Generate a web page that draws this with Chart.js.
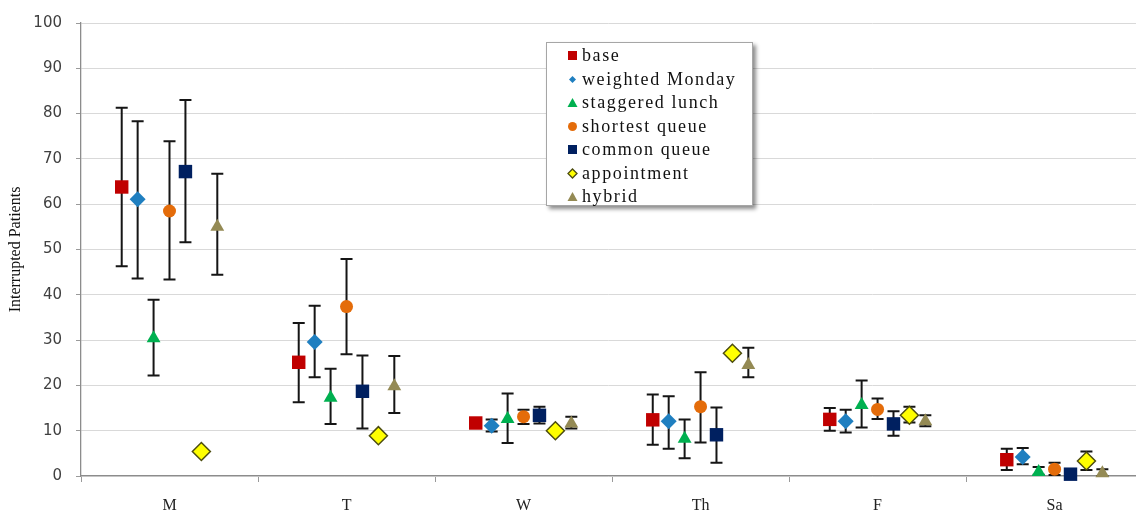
<!DOCTYPE html>
<html>
<head>
<meta charset="utf-8">
<script src="https://cdn.jsdelivr.net/npm/chart.js@4.4.1/dist/chart.umd.min.js"></script>
<style>
  body { margin: 0; background: #fff; }
  #wrap { position: relative; width: 1136px; height: 514px; overflow: hidden; }
  #legend {
    position: absolute; left: 546px; top: 42px; width: 207px; height: 164px;
    border: 1px solid #a6a6a6; background: #fff;
    box-shadow: 3px 3px 4px rgba(0,0,0,0.45);
    font-family: "Liberation Serif", serif; font-size: 18px; letter-spacing: 1.6px; color: #111;
    padding-top: 1px; box-sizing: border-box;
  }
  #legend .item { height: 23.5px; line-height: 23.5px; display: flex; align-items: center; }
  #legend svg { margin-left: 20px; margin-right: 4px; flex: none; }
</style>
</head>
<body>
<div id="wrap">
  <canvas id="chart" width="1136" height="514"></canvas>
  <div id="legend"></div>
</div>
<script>
const days = ['M', 'T', 'W', 'Th', 'F', 'Sa'];

const base = [63.8, 25.1, 11.7, 12.4, 12.5, 3.6];
const baseLo = [46.3, 16.3, 11.0, 6.9, 10.0, 1.3];
const baseHi = [81.3, 33.8, 12.4, 18.0, 15.0, 6.0];

const weighted = [61.1, 29.6, 11.1, 12.1, 12.1, 4.2];
const weightedLo = [43.6, 21.8, 9.8, 6.0, 9.6, 2.6];
const weightedHi = [78.3, 37.6, 12.5, 17.6, 14.6, 6.2];

const staggered = [30.4, 17.3, 12.6, 8.2, 15.7, 0.9];
const staggeredLo = [22.2, 11.5, 7.3, 3.9, 10.7, 0.3];
const staggeredHi = [38.9, 23.7, 18.2, 12.5, 21.1, 2.0];

const shortest = [58.5, 37.4, 13.1, 15.3, 14.7, 1.5];
const shortestLo = [43.4, 26.9, 11.5, 7.4, 12.6, 0.2];
const shortestHi = [73.9, 47.9, 14.6, 22.9, 17.1, 2.9];

const common = [67.2, 18.7, 13.4, 9.1, 11.5, 0.4];
const commonLo = [51.6, 10.5, 11.6, 2.9, 8.9, 0.0];
const commonHi = [83.0, 26.6, 15.3, 15.1, 14.3, 0.8];

const appointment = [5.4, 8.9, 10.0, 27.1, 13.4, 3.3];
const appointmentLo = [5.0, 8.5, 9.5, 26.5, 11.8, 1.3];
const appointmentHi = [5.8, 9.3, 10.5, 27.7, 15.3, 5.4];

const hybrid = [55.0, 19.8, 11.6, 24.5, 12.1, 0.6];
const hybridLo = [44.4, 13.9, 10.5, 21.8, 11.0, 0.0];
const hybridHi = [66.7, 26.5, 13.1, 28.3, 13.4, 1.5];

const yTicks = [0, 10, 20, 30, 40, 50, 60, 70, 80, 90, 100];

// series: name, values, lows, highs, marker
const series = [
  ['base', base, baseLo, baseHi, 'rect', 9.5, '#c00000', '#c00000', 0],
  ['weighted Monday', weighted, weightedLo, weightedHi, 'rectRot', 8, '#1f7fc0', '#1f7fc0', 0],
  ['staggered lunch', staggered, staggeredLo, staggeredHi, 'triangle', 8, '#00b050', '#00b050', 0],
  ['shortest queue', shortest, shortestLo, shortestHi, 'circle', 6.5, '#e46c0a', '#e46c0a', 0],
  ['common queue', common, commonLo, commonHi, 'rect', 9.5, '#002060', '#002060', 0],
  ['appointment', appointment, appointmentLo, appointmentHi, 'rectRot', 9, '#ffff00', '#4d4d10', 1.5],
  ['hybrid', hybrid, hybridLo, hybridHi, 'triangle', 8, '#948a54', '#948a54', 0]
];

const datasets = series.map((s, k) => ({
  label: s[0],
  data: s[1].map((v, i) => ({ x: i + (k - 3) * 0.09, y: v })),
  errLo: s[2],
  errHi: s[3],
  pointStyle: s[4],
  pointRadius: s[5],
  backgroundColor: s[6],
  borderColor: s[7],
  pointBorderWidth: s[8],
  showLine: false,
  clip: false
}));

// error bars, drawn under the markers
const errorBars = {
  id: 'errorBars',
  beforeDatasetsDraw(chart) {
    const ctx = chart.ctx;
    const y = chart.scales.y;
    ctx.save();
    ctx.strokeStyle = '#151515';
    ctx.lineWidth = 2;
    chart.data.datasets.forEach((ds, di) => {
      chart.getDatasetMeta(di).data.forEach((pt, i) => {
        const yl = y.getPixelForValue(ds.errLo[i]);
        const yh = y.getPixelForValue(ds.errHi[i]);
        ctx.beginPath();
        ctx.moveTo(pt.x, yl); ctx.lineTo(pt.x, yh);
        ctx.moveTo(pt.x - 6, yl); ctx.lineTo(pt.x + 6, yl);
        ctx.moveTo(pt.x - 6, yh); ctx.lineTo(pt.x + 6, yh);
        ctx.stroke();
      });
    });
    ctx.restore();
  }
};

new Chart(document.getElementById('chart'), {
  type: 'scatter',
  data: { datasets },
  plugins: [errorBars],
  options: {
    responsive: false,
    animation: false,
    layout: { autoPadding: false, padding: { top: 17, right: 0, bottom: 0, left: 0 } },
    plugins: { legend: { display: false }, tooltip: { enabled: false } },
    scales: {
      x: {
        type: 'linear',
        min: -0.5,
        max: 5.46,
        afterBuildTicks(scale) {
          const t = [];
          for (let v = -0.5; v <= 5; v += 0.5) t.push({ value: v });
          scale.ticks = t;
        },
        afterFit(scale) {
          scale.height = 38;
          scale.paddingRight = 0;
          scale.paddingLeft = 0;
        },
        ticks: {
          autoSkip: false,
          maxRotation: 0,
          padding: 14,
          color: '#222',
          font: { family: 'Liberation Serif', size: 16 },
          callback: v => Number.isInteger(v) ? days[v] : ''
        },
        grid: {
          drawOnChartArea: false,
          tickLength: 6,
          color: ctx => (ctx.tick && Number.isInteger(ctx.tick.value)) ? 'rgba(0,0,0,0)' : '#9a9a9a'
        },
        border: { color: '#8c8c8c', width: 1.3 }
      },
      y: {
        min: 0,
        max: 100,
        afterBuildTicks(scale) { scale.ticks = yTicks.map(v => ({ value: v })); },
        afterFit(scale) { scale.width = 81; },
        ticks: {
          padding: 14,
          color: '#404040',
          font: { family: 'DejaVu Sans', size: 15 }
        },
        grid: { color: '#d9d9d9', tickLength: 5, tickColor: '#9a9a9a' },
        border: { color: '#8c8c8c', width: 1.3 },
        title: {
          display: true,
          text: 'Interrupted Patients',
          color: '#111',
          font: { family: 'Liberation Serif', size: 16 },
          padding: { top: 6, bottom: 0 }
        }
      }
    }
  }
});

// legend box
const svgFor = s => {
  const c = s[6], b = s[7];
  const shapes = {
    rect: `<rect x="1" y="1" width="9" height="9" fill="${c}"/>`,
    rectRot: s[0] === 'appointment'
      ? `<polygon points="5.5,1 10,5.5 5.5,10 1,5.5" fill="${c}" stroke="${b}" stroke-width="1.3"/>`
      : `<polygon points="5.5,2 9,5.5 5.5,9 2,5.5" fill="${c}"/>`,
    triangle: `<polygon points="5.5,1 10.5,10 0.5,10" fill="${c}"/>`,
    circle: `<circle cx="5.5" cy="5.5" r="4.5" fill="${c}"/>`
  };
  return `<svg width="11" height="11">${shapes[s[4]]}</svg>`;
};
document.getElementById('legend').innerHTML = series
  .map(s => `<div class="item">${svgFor(s)}<span>${s[0]}</span></div>`)
  .join('');
</script>
</body>
</html>
